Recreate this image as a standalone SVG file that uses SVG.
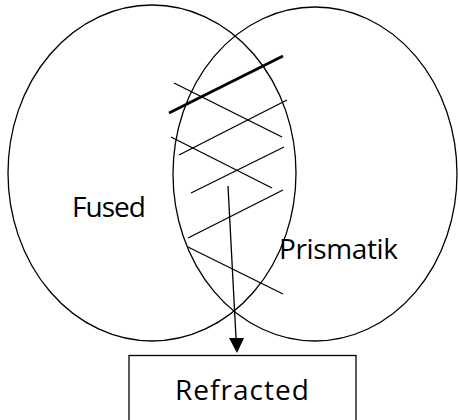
<svg xmlns="http://www.w3.org/2000/svg" width="458" height="420" viewBox="0 0 458 420">
<style>
.o{fill:none;stroke:#000;stroke-width:1.3}
.l{stroke:#000;stroke-width:1.3;fill:none}
.thick{stroke-width:2.8}
.t{font-family:"Open Sans","Liberation Sans",sans-serif;font-size:28px;fill:#000}
</style>
<rect width="458" height="420" fill="#fff"/>
<g id="fused">
<ellipse class="o" cx="152" cy="173" rx="144" ry="168"/>
<text class="t" x="72" y="217" textLength="74">Fused</text>
</g>
<g id="prismatik">
<ellipse class="o" cx="315" cy="174" rx="142" ry="167"/>
<text class="t" x="279" y="259" textLength="119">Prismatik</text>
</g>
<g id="hatching">
<line class="l thick" x1="169" y1="113" x2="283" y2="56"/>
<line class="l" x1="174" y1="83" x2="282" y2="137"/>
<line class="l" x1="179" y1="155" x2="287" y2="100"/>
<line class="l" x1="171" y1="137" x2="272" y2="188"/>
<line class="l" x1="191" y1="193" x2="284" y2="147"/>
<line class="l" x1="188" y1="238" x2="283" y2="190"/>
<line class="l" x1="188" y1="247" x2="283" y2="294"/>
</g>
<g id="refracted">
<rect class="o" x="129" y="355.5" width="227" height="70"/>
<text class="t" x="175" y="400" textLength="134">Refracted</text>
</g>
<g id="connectors">
<path class="l" d="M228,186 L236,338"/>
<path d="M229,338 L244,338 L237,353 Z" fill="#000"/>
</g>
</svg>
